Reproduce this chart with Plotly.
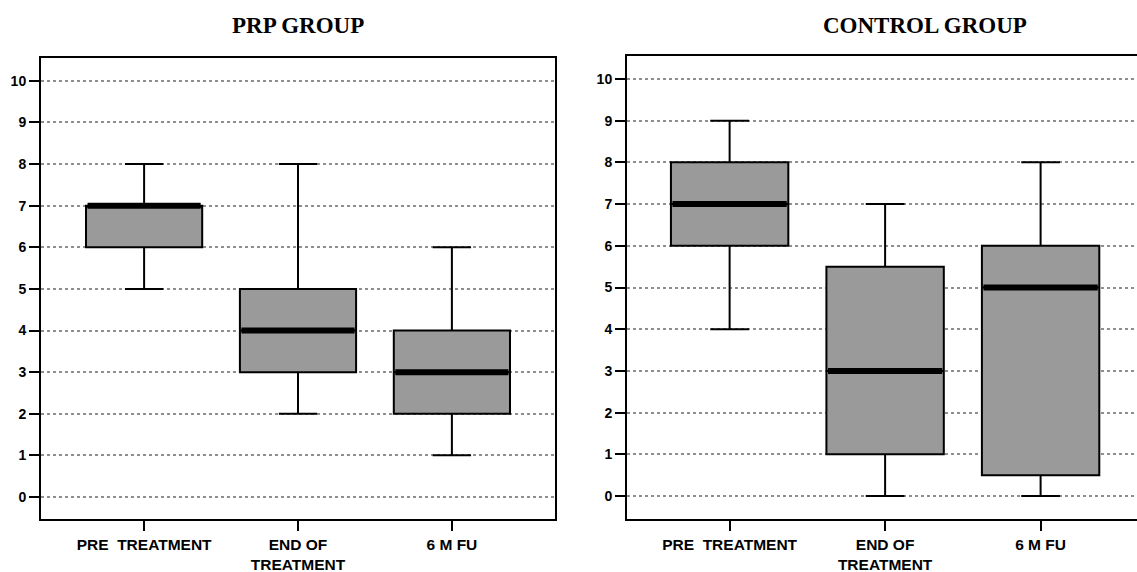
import plotly.graph_objects as go

categories = ["PRE\u00a0\u00a0TREATMENT", "END OF<br>TREATMENT", "6 M FU"]
positions = [0, 1, 2]

prp_q1 = [6, 3, 2]
prp_median = [7, 4, 3]
prp_q3 = [7, 5, 4]
prp_lower = [5, 2, 1]
prp_upper = [8, 8, 6]

ctl_q1 = [6, 1, 0.5]
ctl_median = [7, 3, 5]
ctl_q3 = [8, 5.5, 6]
ctl_lower = [4, 0, 0]
ctl_upper = [9, 7, 8]

y_ticks = list(range(0, 11))
titles = ["PRP GROUP", "CONTROL GROUP"]

BOX_W = 0.755
font_family = "Liberation Sans Narrow, Liberation Sans, Arial"
x_tick_font = dict(family=font_family, size=15.5, color="black", weight="bold")
y_tick_font = dict(family=font_family, size=14, color="black", weight="bold")

fig = go.Figure()

groups = [
    ("x", "y", prp_q1, prp_median, prp_q3, prp_lower, prp_upper),
    ("x2", "y2", ctl_q1, ctl_median, ctl_q3, ctl_lower, ctl_upper),
]
for xa, ya, q1, med, q3, lo, hi in groups:
    fig.add_trace(go.Box(
        x=positions, q1=q1, median=med, q3=q3, lowerfence=lo, upperfence=hi,
        width=BOX_W, whiskerwidth=0.33,
        fillcolor="#9a9a9a", line=dict(color="black", width=2),
        boxpoints=False, hoverinfo="skip", showlegend=False,
        xaxis=xa, yaxis=ya,
    ))
    for p, m in zip(positions, med):
        fig.add_trace(go.Scatter(
            x=[p - BOX_W / 2 + 0.01, p + BOX_W / 2 - 0.01], y=[m, m],
            mode="lines", line=dict(color="black", width=6),
            hoverinfo="skip", showlegend=False, xaxis=xa, yaxis=ya,
        ))

axis_common = dict(
    showline=True, linecolor="black", linewidth=2, mirror=True,
    ticks="outside", tickcolor="black", tickwidth=2, ticklen=10,
    zeroline=False, automargin=False,
)
grid = dict(showgrid=True, gridcolor="#8f8f8f", griddash="dot", gridwidth=1.5)
title_font = dict(family="Liberation Serif, Times New Roman", size=23, color="black")
fig.update_layout(
    width=1137, height=572,
    margin=dict(l=0, r=0, t=0, b=0, autoexpand=False),
    paper_bgcolor="white", plot_bgcolor="white",
    xaxis=dict(domain=[41 / 1137, 555 / 1137], range=[-0.67, 2.67], tickfont=x_tick_font,
               tickvals=positions, ticktext=categories, showgrid=False, **axis_common),
    yaxis=dict(domain=[1 - 519 / 572, 1 - 58 / 572], range=[-0.53, 10.55], tickfont=y_tick_font,
               tickvals=y_ticks, **grid, **axis_common),
    xaxis2=dict(domain=[627 / 1137, 1.0], range=[-0.66, 2.62], anchor="y2", tickfont=x_tick_font,
                tickvals=positions, ticktext=categories, showgrid=False, **axis_common),
    yaxis2=dict(domain=[1 - 519 / 572, 1 - 56 / 572], range=[-0.55, 10.55], anchor="x2",
                tickfont=y_tick_font, tickvals=y_ticks, **grid, **axis_common),
    annotations=[
        dict(text="<b>%s</b>" % titles[0], x=298 / 1137, y=1 - 25 / 572, xref="paper", yref="paper",
             xanchor="center", yanchor="middle", showarrow=False, font=title_font),
        dict(text="<b>%s</b>" % titles[1], x=925 / 1137, y=1 - 25 / 572, xref="paper", yref="paper",
             xanchor="center", yanchor="middle", showarrow=False, font=title_font),
    ],
)

fig.write_html("out.html", config={"displayModeBar": False},
               post_script="document.body.style.margin='0';")
